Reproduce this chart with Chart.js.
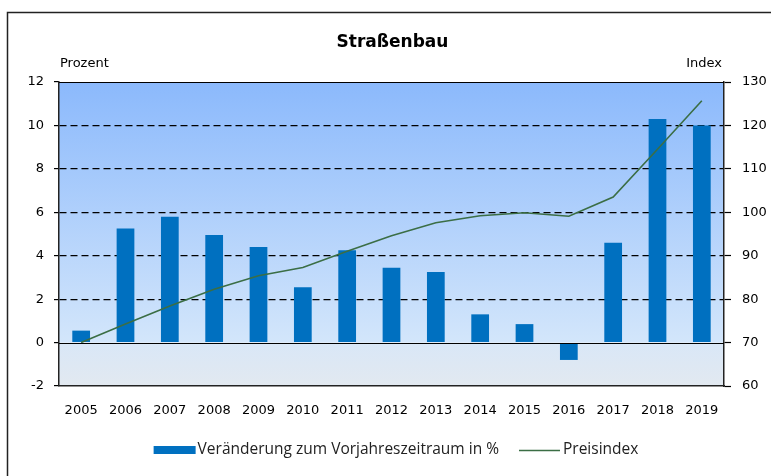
<!DOCTYPE html>
<html>
<head>
<meta charset="utf-8">
<script src="https://cdn.jsdelivr.net/npm/chart.js@4"></script>
<style>
  html, body { margin: 0; padding: 0; background: #fff; }
  #wrap { width: 771px; height: 476px; }
</style>
</head>
<body>
<div id="wrap"><canvas id="graph" width="771" height="476"></canvas></div>
<script>
const years = ['2005', '2006', '2007', '2008', '2009', '2010', '2011', '2012', '2013', '2014', '2015', '2016', '2017', '2018', '2019']
const veraenderung = [0.55, 5.25, 5.8, 4.95, 4.4, 2.55, 4.25, 3.45, 3.25, 1.3, 0.85, -0.8, 4.6, 10.3, 10.0]
const preisindex = [70.0, 74.3, 78.4, 82.3, 85.4, 87.3, 91.0, 94.6, 97.6, 99.2, 99.9, 99.1, 103.5, 114.5, 125.7]
const prozentTicks = [-2, 0, 2, 4, 6, 8, 10, 12]
const indexTicks = [60, 70, 80, 90, 100, 110, 120, 130]

const axisFont = { family: '"DejaVu Sans", Verdana, sans-serif', size: 13 }

// Hintergrund, Rahmen, Titel, Legende
const deko = {
  id: 'deko',
  beforeDraw(chart) {
    const { ctx, chartArea: a, scales } = chart
    ctx.save()
    ctx.fillStyle = '#fff'
    ctx.fillRect(0, 0, chart.width, chart.height)
    ctx.strokeStyle = '#222'
    ctx.lineWidth = 1.5
    ctx.strokeRect(7.5, 12.5, 800, 500)
    const y0 = scales.y.getPixelForValue(0)
    let g = ctx.createLinearGradient(0, a.top, 0, y0)
    g.addColorStop(0, '#8bb9fc')
    g.addColorStop(1, '#d3e6fb')
    ctx.fillStyle = g
    ctx.fillRect(a.left, a.top, a.right - a.left, y0 - a.top)
    g = ctx.createLinearGradient(0, y0, 0, a.bottom)
    g.addColorStop(0, '#d9e7f7')
    g.addColorStop(1, '#e2e9f0')
    ctx.fillStyle = g
    ctx.fillRect(a.left, y0, a.right - a.left, a.bottom - y0)
    ctx.restore()
  },
  afterDatasetsDraw(chart) {
    const { ctx, chartArea: a, scales } = chart
    ctx.save()
    ctx.strokeStyle = '#000'
    ctx.lineWidth = 1.2
    const y0 = Math.round(scales.y.getPixelForValue(0)) + 0.5
    ctx.beginPath()
    ctx.moveTo(a.left, y0); ctx.lineTo(a.right, y0)
    ctx.moveTo(a.left, a.top + 0.5); ctx.lineTo(a.right, a.top + 0.5)
    ctx.stroke()
    ctx.restore()
  },
  afterDraw(chart) {
    const { ctx, chartArea: a } = chart
    ctx.save()
    ctx.fillStyle = '#000'
    ctx.textBaseline = 'middle'
    ctx.font = 'bold 17px "DejaVu Sans", Verdana, sans-serif'
    ctx.textAlign = 'center'
    ctx.fillText('Straßenbau', (a.left + a.right) / 2 + 1, 43)
    ctx.font = '13px "DejaVu Sans", Verdana, sans-serif'
    ctx.textAlign = 'left'
    ctx.fillText('Prozent', 60, 64)
    ctx.textAlign = 'right'
    ctx.fillText('Index', 722, 64)

    // Legende
    const ds = chart.data.datasets
    const bar = ds[1], line = ds[0]
    ctx.font = '15.5px "Open Sans", sans-serif'
    const w1 = ctx.measureText(bar.label).width
    const w2 = ctx.measureText(line.label).width
    const total = 42 + 2 + w1 + 20 + 41 + 3 + w2
    let x = 396 - total / 2
    const y = 450
    ctx.fillStyle = bar.backgroundColor
    ctx.fillRect(x, y - 4, 42, 8)
    x += 44
    ctx.fillStyle = '#222'
    ctx.textAlign = 'left'
    ctx.fillText(bar.label, x, y)
    x += w1 + 20
    ctx.strokeStyle = line.borderColor
    ctx.lineWidth = 1.6
    ctx.beginPath()
    ctx.moveTo(x, y + 0.5); ctx.lineTo(x + 41, y + 0.5)
    ctx.stroke()
    x += 44
    ctx.fillText(line.label, x, y)
    ctx.restore()
  }
}

document.addEventListener('DOMContentLoaded', function() {
  const context = document.querySelector('#graph').getContext('2d')
  new Chart(context, {
    data: {
      labels: years,
      datasets: [{
        type: 'line',
        label: 'Preisindex',
        data: preisindex,
        yAxisID: 'y1',
        borderColor: '#3b6e45',
        borderWidth: 1.6,
        pointRadius: 0,
        tension: 0,
        order: 0
      }, {
        type: 'bar',
        label: 'Veränderung zum Vorjahreszeitraum in %',
        data: veraenderung,
        yAxisID: 'y',
        backgroundColor: '#0070c0',
        borderWidth: 0,
        barPercentage: 0.4,
        categoryPercentage: 1,
        order: 1
      }]
    },
    options: {
      responsive: false,
      animation: false,
      layout: { padding: { top: 82, bottom: 50, left: 0, right: 0 } },
      plugins: {
        legend: { display: false },
        title: { display: false },
        tooltip: { enabled: false }
      },
      scales: {
        x: {
          offset: true,
          grid: { display: false, drawTicks: false },
          border: { display: true, color: '#222', width: 1.5 },
          ticks: { color: '#000', font: axisFont, padding: 17 },
          afterFit(s) { s.height = 40 }
        },
        y: {
          position: 'left',
          min: prozentTicks[0],
          max: prozentTicks[prozentTicks.length - 1],
          afterBuildTicks(s) { s.ticks = prozentTicks.map(v => ({ value: v })) },
          grid: {
            color: c => [0, -2, 12].includes(c.tick && c.tick.value) ? 'rgba(0,0,0,0)' : '#000',
            lineWidth: 1.2,
            tickColor: '#000',
            tickLength: 5,
            tickWidth: 1.2
          },
          border: { display: true, color: '#222', width: 1.5, dash: [7, 4] },
          ticks: { color: '#000', font: axisFont, padding: 10 },
          afterFit(s) { s.width = 59 }
        },
        y1: {
          position: 'right',
          min: indexTicks[0],
          max: indexTicks[indexTicks.length - 1],
          afterBuildTicks(s) { s.ticks = indexTicks.map(v => ({ value: v })) },
          grid: { drawOnChartArea: false, tickColor: '#000', tickLength: 7, tickWidth: 1.2 },
          border: { display: true, color: '#222', width: 1.5 },
          ticks: { color: '#000', font: axisFont, padding: 11 },
          afterFit(s) { s.width = 47 }
        }
      }
    },
    plugins: [deko]
  })
})
</script>
</body>
</html>
